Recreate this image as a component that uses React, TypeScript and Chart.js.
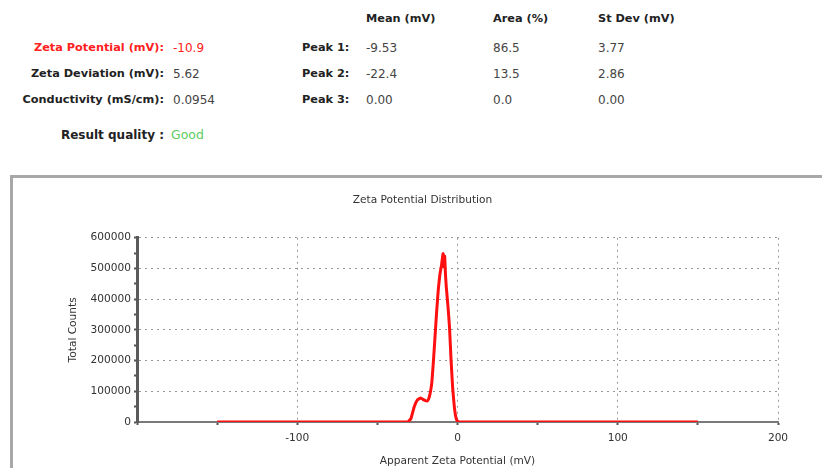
import React, { useEffect, useRef } from "react";
import { Chart, registerables } from "chart.js";

Chart.register(...registerables);

// ---- data ----
const zetaMv = [-150, -31, -29, -27, -25, -23, -21, -19, -18, -17, -16, -15, -14, -13, -12, -11, -10, -9.5, -9, -8.5, -8, -7.5, -7, -6, -5, -4, -3, -2, -1, 0, 1, 150];
const totalCounts = [0, 0, 12000, 50000, 72000, 78000, 72000, 68000, 75000, 95000, 130000, 200000, 280000, 360000, 430000, 480000, 510000, 530000, 548000, 505000, 540000, 480000, 440000, 380000, 310000, 200000, 110000, 50000, 15000, 2000, 0, 0];

const summaryLabels = ["Zeta Potential (mV):", "Zeta Deviation (mV):", "Conductivity (mS/cm):"];
const summaryValues = ["-10.9", "5.62", "0.0954"];
const peakLabels = ["Peak 1:", "Peak 2:", "Peak 3:"];
const peakHeaders = ["Mean (mV)", "Area (%)", "St Dev (mV)"];
const peakMeans = ["-9.53", "-22.4", "0.00"];
const peakAreas = ["86.5", "13.5", "0.0"];
const peakStDevs = ["3.77", "2.86", "0.00"];
const resultQuality = "Good";

const chartTitle = "Zeta Potential Distribution";
const xTitle = "Apparent Zeta Potential (mV)";
const yTitle = "Total Counts";

const FONT = "'DejaVu Sans', Verdana, sans-serif";

export default function App() {
  const ref = useRef<HTMLCanvasElement | null>(null);

  useEffect(() => {
    if (!ref.current) return;
    const tickFont = { family: FONT, size: 10.6 };
    const chart = new Chart(ref.current, {
      type: "line",
      data: {
        datasets: [
          {
            data: zetaMv.map((x, i) => ({ x, y: totalCounts[i] })),
            borderColor: "#ff1010",
            borderWidth: 3,
            pointRadius: 0,
            tension: 0.1,
            fill: false,
          },
        ],
      },
      options: {
        animation: false,
        responsive: false,
        maintainAspectRatio: false,
        layout: { padding: { left: 55, right: 55, top: 0, bottom: 0 } },
        plugins: {
          legend: { display: false },
          tooltip: { enabled: false },
          title: {
            display: true,
            text: chartTitle,
            color: "#333",
            font: { family: FONT, size: 10.6, weight: "normal" },
            padding: { top: 17, bottom: 31 },
          },
        },
        scales: {
          x: {
            type: "linear",
            min: -200,
            max: 200,
            afterFit: (s: any) => {
              s.height = 46;
            },
            ticks: {
              stepSize: 50,
              color: "#333",
              font: tickFont,
              padding: 7,
              maxRotation: 0,
              autoSkip: false,
              callback: (v: any) => (v % 100 === 0 && v !== -200 ? String(v) : ""),
            },
            grid: {
              color: (ctx: any) => (ctx.tick && ctx.tick.value % 100 === 0 ? "#999" : "rgba(0,0,0,0)"),
              lineWidth: 1,
              tickLength: 3,
              tickColor: "#555",
              tickWidth: 2,
            },
            border: { display: true, color: "#7a7a7a", width: 2, dash: [2, 4] },
            title: {
              display: true,
              text: xTitle,
              color: "#333",
              font: { family: FONT, size: 10.6 },
              padding: 0,
            },
          },
          y: {
            type: "linear",
            min: 0,
            max: 600000,
            afterFit: (s: any) => {
              s.width = 70;
            },
            ticks: {
              stepSize: 50000,
              color: "#333",
              font: tickFont,
              padding: 3,
              autoSkip: false,
              callback: (v: any) => (v % 100000 === 0 ? String(v) : ""),
            },
            grid: {
              color: (ctx: any) => (ctx.tick && ctx.tick.value % 100000 === 0 && ctx.tick.value !== 0 ? "#999" : "rgba(0,0,0,0)"),
              lineWidth: 1,
              tickLength: 3,
              tickColor: "#555",
              tickWidth: 2,
            },
            border: { display: true, color: "#5a5a5a", width: 3, dash: [2, 4] },
            title: {
              display: true,
              text: yTitle,
              color: "#333",
              font: { family: FONT, size: 10.6 },
              padding: 0,
            },
          },
        },
      },
    } as any);
    return () => chart.destroy();
  }, []);

  const labelStyle: React.CSSProperties = {
    position: "absolute",
    fontFamily: FONT,
    fontWeight: "bold",
    fontSize: 11.3,
    color: "#222",
    whiteSpace: "nowrap",
    lineHeight: "14px",
  };
  const valueStyle: React.CSSProperties = {
    position: "absolute",
    fontFamily: FONT,
    fontSize: 12,
    color: "#444",
    whiteSpace: "nowrap",
    lineHeight: "14px",
  };
  const rowY = [41, 67, 93];
  const cols = [366, 493, 598];

  return (
    <div style={{ position: "absolute", left: 0, top: 0, width: 822, height: 468, overflow: "hidden", background: "#fff" }}>
      {summaryLabels.map((t, i) => (
        <div key={"sl" + i} style={{ ...labelStyle, right: 822 - 164, top: rowY[i], color: i === 0 ? "#ff2020" : "#222" }}>
          {t}
        </div>
      ))}
      {summaryValues.map((t, i) => (
        <div key={"sv" + i} style={{ ...valueStyle, left: 173, top: rowY[i], color: i === 0 ? "#ff2020" : "#444" }}>
          {t}
        </div>
      ))}
      <div style={{ ...labelStyle, right: 822 - 164, top: 128, fontSize: 12 }}>Result quality :</div>
      <div style={{ ...valueStyle, left: 171, top: 128, color: "#5ccc5c", fontSize: 12.5 }}>{resultQuality}</div>

      {peakHeaders.map((t, i) => (
        <div key={"ph" + i} style={{ ...labelStyle, left: cols[i], top: 12 }}>
          {t}
        </div>
      ))}
      {peakLabels.map((t, i) => (
        <div key={"pl" + i} style={{ ...labelStyle, left: 302, top: rowY[i] }}>
          {t}
        </div>
      ))}
      {[peakMeans, peakAreas, peakStDevs].map((col, c) =>
        col.map((t, i) => (
          <div key={"pv" + c + "-" + i} style={{ ...valueStyle, left: cols[c], top: rowY[i] }}>
            {t}
          </div>
        ))
      )}

      <div
        style={{
          position: "absolute",
          left: 10,
          top: 175,
          width: 830,
          height: 320,
          border: "3px solid #a8a8a8",
          boxSizing: "border-box",
        }}
      />
      <canvas
        ref={ref}
        width={821}
        height={291}
        style={{ position: "absolute", left: 12, top: 177, width: 821, height: 291 }}
      />
    </div>
  );
}
